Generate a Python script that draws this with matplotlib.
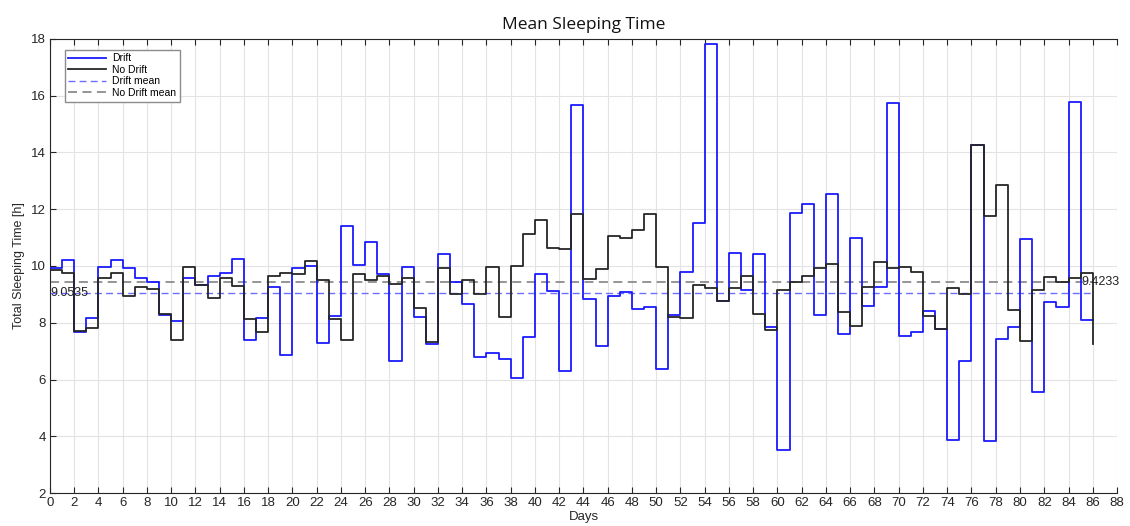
import numpy as np
import matplotlib

matplotlib.use("Agg")
import matplotlib.pyplot as plt

plt.rcParams["font.family"] = ["Liberation Sans", "DejaVu Sans"]

days = np.arange(0, 87)

drift = [
    9.92, 10.21, 7.69, 8.16, 9.97, 10.21, 9.92, 9.57, 9.45, 8.28,
    8.07, 9.57, 9.32, 9.64, 9.76, 10.24, 7.40, 8.16, 9.26, 6.88,
    9.94, 10.01, 7.28, 8.24, 11.41, 10.02, 10.84, 9.71, 6.65, 9.98,
    8.21, 7.26, 10.42, 9.42, 8.67, 6.78, 6.93, 6.72, 6.05, 7.49,
    9.73, 9.13, 6.29, 15.68, 8.83, 7.18, 8.94, 9.10, 8.50, 8.54,
    6.38, 8.29, 9.80, 11.53, 17.82, 8.75, 10.45, 9.15, 10.42, 7.84,
    3.53, 11.88, 12.19, 8.29, 12.54, 7.61, 10.97, 8.60, 9.25, 15.75,
    7.53, 7.68, 8.43, 7.79, 3.88, 6.65, 14.25, 3.83, 7.44, 7.86,
    10.94, 5.55, 8.73, 8.54, 15.78, 8.11, 8.11,
]

no_drift = [
    9.86, 9.77, 7.70, 7.80, 9.57, 9.77, 8.94, 9.27, 9.20, 8.32,
    7.38, 9.97, 9.32, 8.88, 9.57, 9.29, 8.12, 7.66, 9.63, 9.75,
    9.71, 10.16, 9.49, 8.12, 7.38, 9.71, 9.49, 9.63, 9.38, 9.57,
    8.51, 7.31, 9.92, 9.00, 9.49, 9.02, 9.97, 8.19, 9.99, 11.12,
    11.62, 10.65, 10.61, 11.84, 9.55, 9.90, 11.04, 10.99, 11.26, 11.84,
    9.97, 8.22, 8.15, 9.34, 9.22, 8.75, 9.22, 9.63, 8.31, 7.75,
    9.14, 9.43, 9.63, 9.92, 10.08, 8.39, 7.90, 9.27, 10.15, 9.92,
    9.97, 9.80, 8.24, 7.79, 9.24, 9.02, 14.28, 11.75, 12.87, 8.45,
    7.35, 9.14, 9.62, 9.45, 9.59, 9.74, 7.24,
]

drift_mean = 9.0535
no_drift_mean = 9.4233

x_ticks = np.arange(0, 89, 2)
y_ticks = np.arange(2, 19, 2)

fig = plt.figure(figsize=(11.3, 5.26), dpi=100)
ax = fig.add_axes([0.0442, 0.0627, 0.9443, 0.8632])

ax.step(days, drift, where="post", color="#1a1aff", linewidth=1.3, label="Drift", zorder=3)
ax.step(days, no_drift, where="post", color="#262626", linewidth=1.3, label="No Drift", zorder=4)
ax.plot([days[0], days[-1]], [drift_mean, drift_mean], linestyle=(0, (5, 3)),
        color="#6f6fff", linewidth=1.0, label="Drift mean", zorder=2)
ax.plot([days[0], days[-1]], [no_drift_mean, no_drift_mean], linestyle=(0, (5, 3)),
        color="#8c8c8c", linewidth=1.3, label="No Drift mean", zorder=2)

ax.text(0, drift_mean, f"{drift_mean:.4f}", fontsize=9, color="#222222",
        ha="left", va="center", zorder=5)
ax.text(85.1, no_drift_mean, f"{no_drift_mean:.4f}", fontsize=9, color="#222222",
        ha="left", va="center", zorder=5)

ax.set_xlim(0, 88)
ax.set_ylim(2, 18)
ax.set_xticks(x_ticks)
ax.set_yticks(y_ticks)
ax.tick_params(direction="in", length=4, labelsize=9.5, colors="#262626",
               top=True, right=False, pad=3)
ax.grid(True, color="#e3e3e3", linewidth=0.8, zorder=0)
ax.set_axisbelow(True)
for side in ["left", "bottom", "top"]:
    ax.spines[side].set_color("#262626")
    ax.spines[side].set_linewidth(0.8)
ax.spines["right"].set_visible(False)

ax.set_title("Mean Sleeping Time", fontsize=12.5, family="Open Sans", color="#111111", pad=7)
ax.set_xlabel("Days", fontsize=9.5, color="#262626", labelpad=1)
ax.set_ylabel("Total Sleeping Time [h]", fontsize=9, color="#262626", labelpad=4)

leg = ax.legend(loc="upper left", bbox_to_anchor=(0.009, 0.988), fontsize=7.5,
                handlelength=3.6, handletextpad=0.6, borderpad=0.35, labelspacing=0.15,
                fancybox=False, framealpha=1, edgecolor="#8c8c8c")
leg.get_frame().set_linewidth(1.0)

fig.savefig("out.png", dpi=100)
plt.close(fig)
